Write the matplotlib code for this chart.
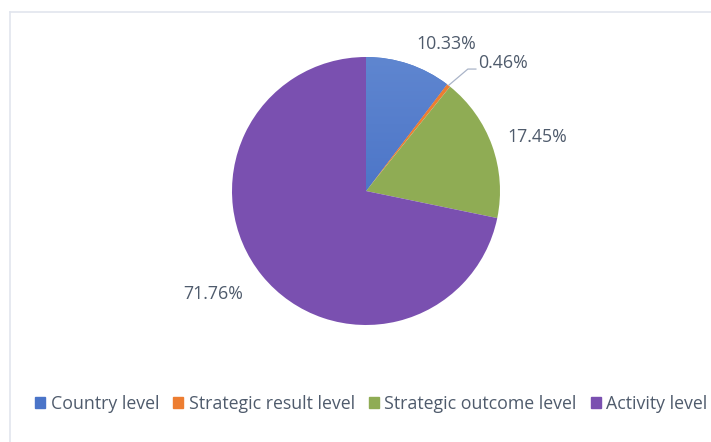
import matplotlib.pyplot as plt
import numpy as np
from matplotlib.lines import Line2D
from matplotlib.colors import LinearSegmentedColormap

plt.rcParams['font.family'] = ['Open Sans', 'DejaVu Sans']

# data
categories = ['Country level', 'Strategic result level', 'Strategic outcome level', 'Activity level']
shares = [10.33, 0.46, 17.45, 71.76]
labels = ['10.33%', '0.46%', '17.45%', '71.76%']
colors = ['#4a74c8', '#ed7d31', '#8fac54', '#7a50b0']

TEXT = '#4f5b6c'
FS = 12.8

fig = plt.figure(figsize=(7.11, 4.42), dpi=100)

# light frame: top and left edges only
W, H = 711, 442
fig.add_artist(Line2D([10 / W, 10 / W], [0, 1 - 12 / H], transform=fig.transFigure,
                      color='#e1e5ee', lw=1.2))
fig.add_artist(Line2D([10 / W, 1], [1 - 12 / H, 1 - 12 / H], transform=fig.transFigure,
                      color='#e1e5ee', lw=1.2))

# pie axes: center (366,191) px, radius 134 px
cx, cy, r = 366, 191, 134
ax = fig.add_axes([(cx - r) / W, (H - cy - r) / H, 2 * r / W, 2 * r / H])
wedges, _ = ax.pie(shares, colors=colors, startangle=90, counterclock=False,
                   radius=1, wedgeprops=dict(linewidth=0))
ax.set_aspect('equal')
ax.axis('off')

# vertical gradient on the blue slice
grad = np.linspace(0, 1, 256).reshape(-1, 1)
cmap = LinearSegmentedColormap.from_list('blu', ['#3b66c0', '#5f86d0'])
im = ax.imshow(grad, cmap=cmap, extent=[-1, 1, -1, 1], origin='lower',
               aspect='auto', zorder=wedges[0].get_zorder() + 0.1)
im.set_clip_path(wedges[0])
ax.set_xlim(-1, 1)
ax.set_ylim(-1, 1)

# labels (positions in radius units)
ax.text(0.60, 1.10, labels[0], ha='center', va='center', fontsize=FS, color=TEXT)
ax.text(1.28, 0.40, labels[2], ha='center', va='center', fontsize=FS, color=TEXT)
ax.text(-1.14, -0.77, labels[3], ha='center', va='center', fontsize=FS, color=TEXT)

# leader line for the thin slice
w = wedges[1]
mid = np.deg2rad((w.theta1 + w.theta2) / 2)
x0, y0 = np.cos(mid), np.sin(mid)
ax.plot([x0, 0.76, 0.82], [y0, 0.91, 0.91], color='#aab4c8', lw=0.9, clip_on=False)
ax.text(0.835, 0.955, labels[1], ha='left', va='center', fontsize=FS, color=TEXT)

handles = [plt.Rectangle((0, 0), 1, 1, color=c) for c in colors]
fig.legend(handles, categories, loc='center', bbox_to_anchor=(0.5225, 1 - 404 / H),
           ncol=4, frameon=False, fontsize=FS, handlelength=0.56, handleheight=0.56,
           handletextpad=0.3, columnspacing=0.8, labelcolor=TEXT)

fig.savefig('out.png', dpi=100)
